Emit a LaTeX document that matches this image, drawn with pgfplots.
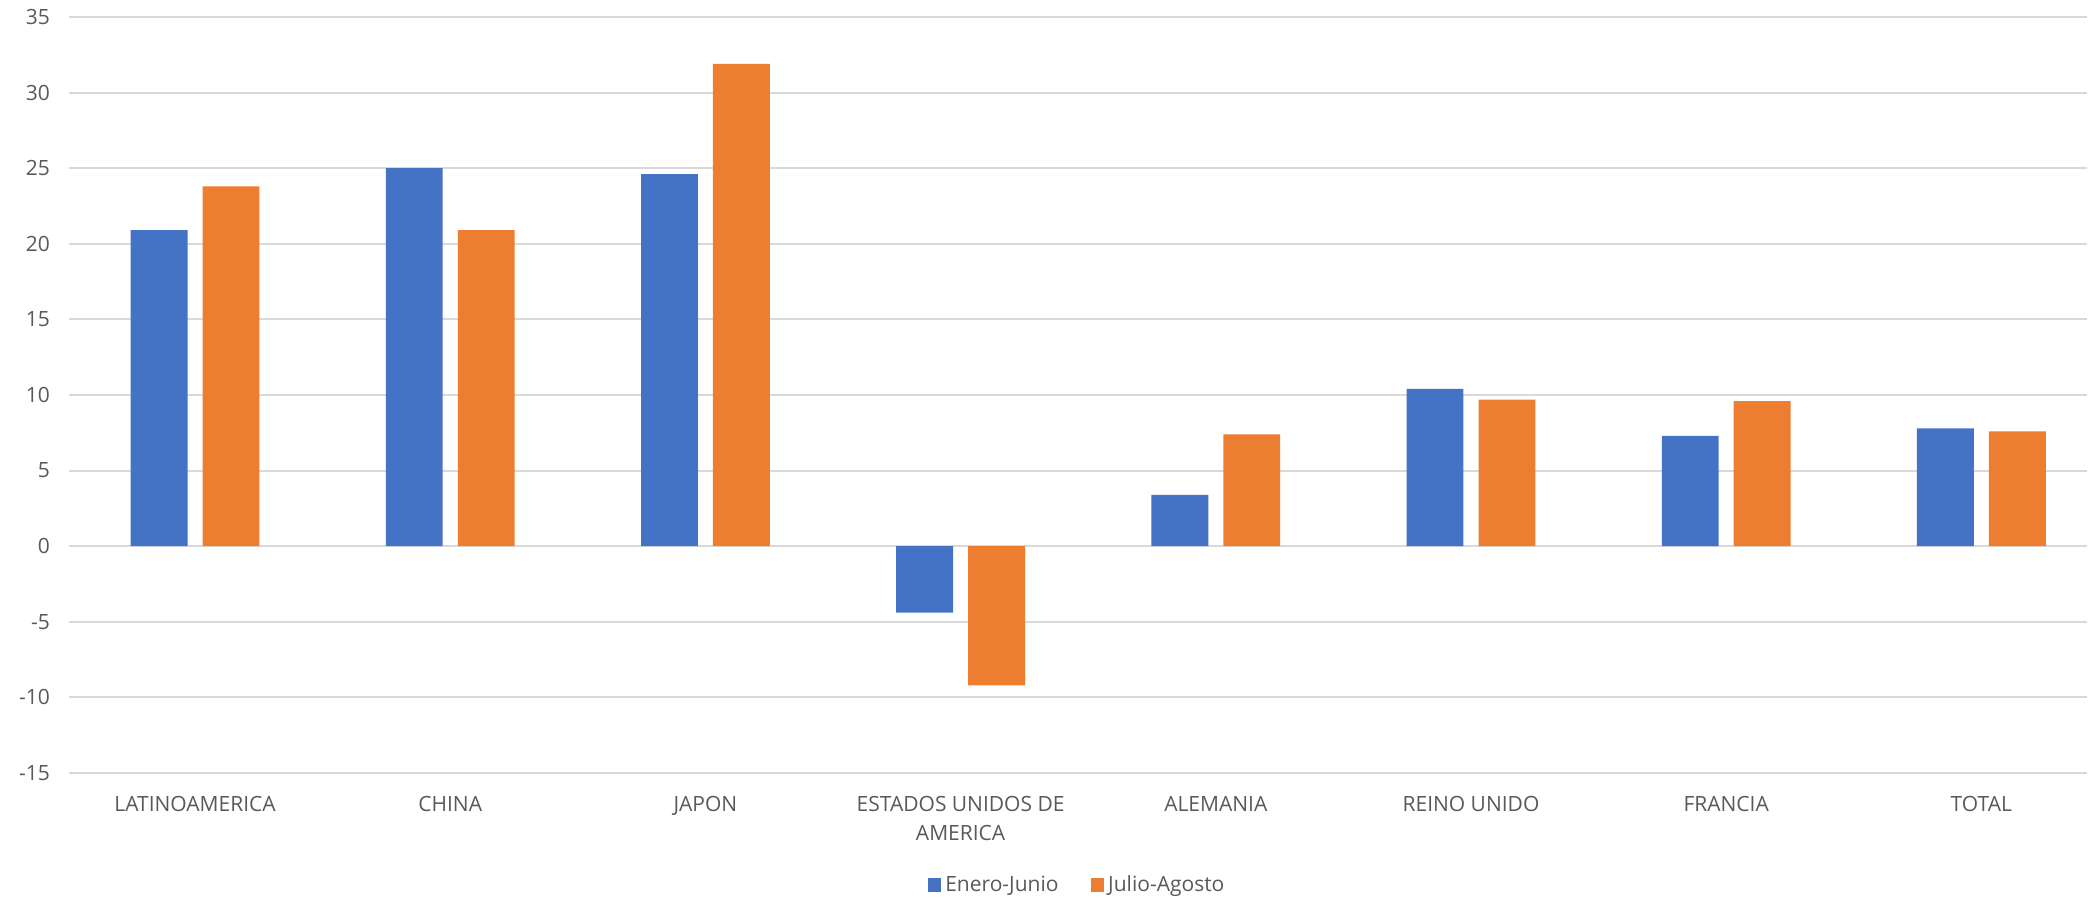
\documentclass[border=0pt]{standalone}
\usepackage{pgfplots}
\pgfplotsset{compat=1.18}
\usepackage{fontspec}
\setmainfont{Open Sans}
\definecolor{cblue}{HTML}{4472C4}
\definecolor{corange}{HTML}{ED7D31}
\definecolor{cgrid}{HTML}{D9D9D9}
\definecolor{ctext}{HTML}{595959}
\begin{document}
\begin{tikzpicture}
\begin{axis}[
  scale only axis,
  width=1009pt, height=378pt,
  xmin=-0.494, xmax=7.414,
  ymin=-15, ymax=35,
  ytick={-15,-10,...,35},
  xtick={0,1,2,3,4,5,6,7},
  xticklabels={LATINOAMERICA,CHINA,JAPON,{ESTADOS UNIDOS DE\\AMERICA},ALEMANIA,REINO UNIDO,FRANCIA,TOTAL},
  xticklabel style={align=center, font=\fontsize{10.5}{14.5}\selectfont, text=ctext, yshift=-4pt},
  yticklabel style={font=\fontsize{10.5}{12}\selectfont, text=ctext, xshift=-6pt},
  /pgf/number format/assume math mode=true,
  axis line style={draw=none},
  tick style={draw=none},
  ymajorgrids, grid style={cgrid, line width=1pt},
  ybar, bar width=0.223,
  legend style={at={(0.5,-0.148)}, anchor=center, draw=none, legend columns=2,
    font=\fontsize{10.5}{12}\selectfont, text=ctext,
    /tikz/every even column/.append style={column sep=14pt}},
  legend image code/.code={\fill[#1] (0pt,-3.4pt) rectangle (6.8pt,3.4pt);},
  clip=false,
]
\addplot[fill=cblue, draw=none, bar shift=-0.141] coordinates {
(0,20.9) (1,25.0) (2,24.6) (3,-4.4) (4,3.4) (5,10.4) (6,7.3) (7,7.8)};
\addplot[fill=corange, draw=none, bar shift=0.141] coordinates {
(0,23.8) (1,20.9) (2,31.9) (3,-9.2) (4,7.4) (5,9.7) (6,9.6) (7,7.6)};
\legend{Enero-Junio, Julio-Agosto}
\end{axis}
\pgfresetboundingbox
\useasboundingbox ([xshift=-34.5pt,yshift=-63.5pt]current axis.south west) rectangle ([xshift=1.5pt,yshift=8.5pt]current axis.north east);
\end{tikzpicture}
\end{document}
